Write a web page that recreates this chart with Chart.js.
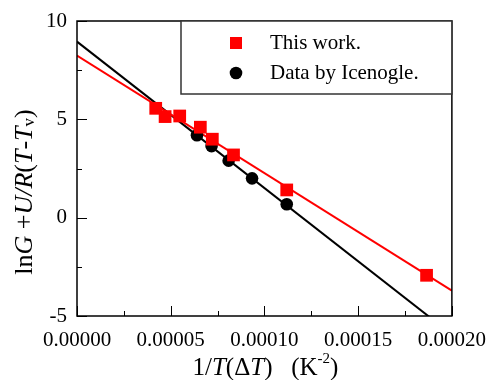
<!DOCTYPE html>
<html>
<head>
<meta charset="utf-8">
<script src="https://cdn.jsdelivr.net/npm/chart.js@4"></script>
<style>
  html, body { margin: 0; padding: 0; background: #fff; }
  #wrap { width: 490px; height: 380px; }
</style>
</head>
<body>
<div id="wrap"><canvas id="myChart" width="490" height="380"></canvas></div>
<script>
// data
const thisWorkX = [0.0000420, 0.0000470, 0.0000548, 0.0000658, 0.0000722, 0.0000835, 0.0001119, 0.0001865];
const thisWorkY = [5.56, 5.14, 5.17, 4.60, 3.99, 3.19, 1.41, -2.93];
const icenogleX = [0.0000640, 0.0000718, 0.0000809, 0.0000934, 0.0001119];
const icenogleY = [4.19, 3.64, 2.90, 2.00, 0.68];
// end points of the two fitted lines
const fitRedX = [0, 0.0002];
const fitRedY = [8.24, -3.71];
const fitBlackX = [0, 0.0002];
const fitBlackY = [8.95, -5.94];
const legendLabels = ['This work.', 'Data by Icenogle.'];

const FONT = 'Liberation Serif';
Chart.defaults.font.family = FONT;

function pts(xs, ys) {
    return xs.map((x, i) => ({ x: x, y: ys[i] }));
}

// frame, inward ticks, legend box and axis titles
const decorPlugin = {
    id: 'decor',
    afterDraw(chart) {
        const ctx = chart.ctx;
        const a = chart.chartArea;
        const xs = chart.scales.x;
        const ys = chart.scales.y;
        ctx.save();
        ctx.strokeStyle = '#000';
        ctx.lineWidth = 1.5;
        ctx.strokeRect(a.left, a.top, a.right - a.left, a.bottom - a.top);

        // ticks pointing into the plot
        ctx.lineWidth = 1;
        ctx.beginPath();
        for (let v = -5; v <= 10; v += 2.5) {
            const p = Math.round(ys.getPixelForValue(v)) + 0.5;
            const len = (v % 5 === 0) ? 10 : 5;
            ctx.moveTo(a.left, p); ctx.lineTo(a.left + len, p);
        }
        for (let i = 0; i <= 8; i++) {
            const v = i * 0.000025;
            const p = Math.round(xs.getPixelForValue(v)) + 0.5;
            const len = (i % 2 === 0) ? 10 : 5;
            ctx.moveTo(p, a.bottom); ctx.lineTo(p, a.bottom - len);
        }
        ctx.stroke();

        // legend
        const lx = 181, ly = 21, lw = a.right - 181, lh = 73;
        ctx.fillStyle = '#fff';
        ctx.fillRect(lx, ly, lw, lh);
        ctx.strokeStyle = '#333';
        ctx.lineWidth = 1.5;
        ctx.strokeRect(lx, ly, lw, lh);
        ctx.fillStyle = '#ff0000';
        ctx.fillRect(236 - 6, 43 - 6, 12, 12);
        ctx.fillStyle = '#000';
        ctx.beginPath();
        ctx.arc(236, 73, 6.3, 0, Math.PI * 2);
        ctx.fill();
        ctx.font = '21px "' + FONT + '"';
        ctx.textBaseline = 'middle';
        ctx.textAlign = 'left';
        ctx.fillText(legendLabels[0], 270, 43);
        ctx.fillText(legendLabels[1], 270, 73);

        // x title: 1/T(ΔT)  (K-2)
        const f25 = '25px "' + FONT + '"';
        const i25 = 'italic 25px "' + FONT + '"';
        const xparts = [
            { t: '1/', f: f25 },
            { t: 'T', f: i25 },
            { t: '(\u0394', f: f25 },
            { t: 'T', f: i25 },
            { t: ')   (K', f: f25 },
            { t: '-2', f: '15px "' + FONT + '"', dy: -9 },
            { t: ')', f: f25 }
        ];
        drawParts(ctx, xparts, (a.left + a.right) / 2 + 1, 368, 0);

        // y title: lnG +U/R(T-Tv)
        const f26 = '26px "' + FONT + '"';
        const i26 = 'italic 26px "' + FONT + '"';
        const yparts = [
            { t: 'ln', f: f26 },
            { t: 'G', f: i26 },
            { t: ' +', f: f26 },
            { t: 'U/R', f: i26 },
            { t: '(', f: f26 },
            { t: 'T', f: i26 },
            { t: '-', f: f26 },
            { t: 'T', f: i26 },
            { t: 'v', f: '17px "' + FONT + '"', dy: 5 },
            { t: ')', f: f26 }
        ];
        drawParts(ctx, yparts, 25, 192, -Math.PI / 2);
        ctx.restore();
    }
};

function drawParts(ctx, parts, cx, cy, rot) {
    let total = 0;
    parts.forEach(p => { ctx.font = p.f; p.w = ctx.measureText(p.t).width; total += p.w; });
    ctx.save();
    ctx.translate(cx, cy);
    ctx.rotate(rot);
    ctx.fillStyle = '#000';
    ctx.textBaseline = 'middle';
    ctx.textAlign = 'left';
    let x = -total / 2;
    parts.forEach(p => {
        ctx.font = p.f;
        ctx.fillText(p.t, x, p.dy || 0);
        x += p.w;
    });
    ctx.restore();
}

const ctx = document.getElementById('myChart').getContext('2d');
const myChart = new Chart(ctx, {
    type: 'scatter',
    data: {
        datasets: [
            {
                label: legendLabels[0],
                data: pts(thisWorkX, thisWorkY),
                pointStyle: 'rect',
                pointRadius: 9,
                backgroundColor: '#ff0000',
                borderColor: '#ff0000',
                borderWidth: 0
            },
            {
                label: legendLabels[1],
                data: pts(icenogleX, icenogleY),
                pointStyle: 'circle',
                pointRadius: 6.3,
                backgroundColor: '#000',
                borderColor: '#000',
                borderWidth: 0
            },
            {
                type: 'line',
                label: 'fit red',
                data: pts(fitRedX, fitRedY),
                borderColor: '#ff0000',
                borderWidth: 2,
                pointRadius: 0,
                fill: false
            },
            {
                type: 'line',
                label: 'fit black',
                data: pts(fitBlackX, fitBlackY),
                borderColor: '#000',
                borderWidth: 2,
                pointRadius: 0,
                fill: false
            }
        ]
    },
    options: {
        responsive: false,
        animation: false,
        layout: { padding: { top: 21, right: 37, left: 0, bottom: 0 } },
        plugins: { legend: { display: false }, tooltip: { enabled: false } },
        scales: {
            x: {
                type: 'linear',
                min: 0,
                max: 0.0002,
                grid: { display: false },
                border: { display: false },
                afterFit: s => { s.height = 64; },
                ticks: {
                    stepSize: 0.00005,
                    color: '#000',
                    padding: 4,
                    maxRotation: 0,
                    font: { family: FONT, size: 21 },
                    callback: v => v.toFixed(5)
                }
            },
            y: {
                min: -5,
                max: 10,
                grid: { display: false },
                border: { display: false },
                afterFit: s => { s.width = 77; },
                ticks: {
                    stepSize: 5,
                    color: '#000',
                    padding: 2,
                    font: { family: FONT, size: 21 }
                }
            }
        }
    },
    plugins: [decorPlugin]
});
</script>
</body>
</html>
